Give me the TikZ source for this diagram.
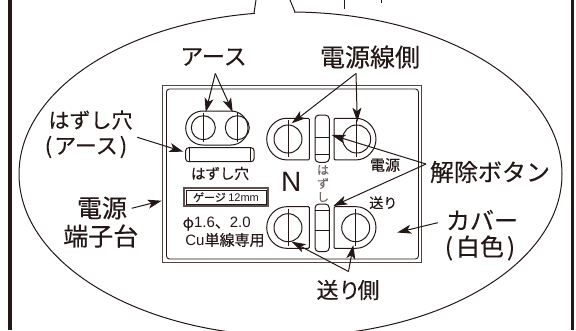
\documentclass[tikz,border=0pt]{standalone}
\usepackage{fontspec}
\setmainfont{Noto Sans CJK JP}[FakeBold=0.25]
\newfontfamily\latinf{Liberation Sans}
\usetikzlibrary{arrows.meta}
\definecolor{ink}{HTML}{231815}
\tikzset{
  lab/.style={font=\fontsize{#1}{#1}\selectfont, inner sep=0pt, text=ink},
  part/.style={draw=ink, line width=1pt},
  pointer/.style={draw=ink, line width=1pt, -{Stealth[length=14pt,width=9pt,inset=3.5pt]}},
  plainline/.style={draw=ink, line width=1pt},
}
\begin{document}
\begin{tikzpicture}[x=1pt,y=-1pt]
\useasboundingbox (0,0) rectangle (576,330);
\clip (0,0) rectangle (576,330);
% frame
\draw[draw=ink,line width=3.6pt] (10,0) -- (10,330);
\draw[draw=ink,line width=3.6pt] (572.5,0) -- (572.5,330);
% balloon ellipse with notch
\draw[draw=ink,line width=1pt] (290.5,174) ellipse [x radius=271.5pt, y radius=162pt];
\fill[white] (255,5) rectangle (294,16);
\draw[plainline] (256,0) -- (254,13.2);
\draw[plainline] (290,0) -- (295,12);
\draw[plainline] (344,0) -- (344,9);
\draw[plainline] (381.7,0) -- (381.7,3);
% body
\node[draw=ink!80,line width=1.4pt,minimum width=259pt,minimum height=177pt,inner sep=0,anchor=north west] (body) at (162,85) {};
\node[draw=ink,line width=.9pt,rounded corners=3pt,minimum width=252pt,minimum height=170pt,inner sep=0,anchor=north west] (inner) at (166,88.5) {};
% earth terminals
\draw[part] (202.7,111) -- (231,111) arc[start angle=90,end angle=-90,radius=17pt] -- (202.7,145) arc[start angle=270,end angle=90,radius=17pt] -- cycle;
\draw[part] (203.3,127.7) circle[radius=12pt];
\draw[part] (237.3,127.7) circle[radius=12pt];
\draw[part] (203.3,112.7) -- (203.3,141.7);
\draw[part] (237.3,112.7) -- (237.3,141.7);
% hole bar
\draw[part,rounded corners=3pt] (185.7,147.7) rectangle (254,161.7);
\draw[part] (189.5,147.7) -- (189.5,161.7);
\draw[part] (250.5,147.7) -- (250.5,161.7);
% power terminals
\draw[part,rounded corners=1pt] (309.3,118.3) -- (287.5,118.3) arc[start angle=90,end angle=270,radius=20.8pt] -- (309.3,159.9) -- cycle;
\draw[part,rounded corners=1pt] (334,118.3) -- (355.2,118.3) arc[start angle=90,end angle=-90,radius=20.8pt] -- (334,159.9) -- cycle;
\draw[part,rounded corners=1pt] (309.3,206.7) -- (287.5,206.7) arc[start angle=90,end angle=270,radius=20.8pt] -- (309.3,248.3) -- cycle;
\draw[part,rounded corners=1pt] (334,206.7) -- (355.2,206.7) arc[start angle=90,end angle=-90,radius=20.8pt] -- (334,248.3) -- cycle;
\foreach \cx/\cy in {288/139,356.7/139,288/227.7,355.7/227.7}{
  \draw[part,fill=white] (\cx,\cy) circle[radius=14pt];
  \draw[part] (\cx,\cy-19) -- (\cx,\cy+18);
}
% release buttons
\draw[part,rounded corners=4pt] (315,115) rectangle (329.3,162.3);
\draw[part] (315,137) -- (329.3,137);
\draw[part] (315,154.3) -- (329.3,154.3);
\draw[part,rounded corners=4pt] (315,204) rectangle (329.3,251.7);
\draw[part] (315,210) -- (329.3,210);
\draw[part] (315,230) -- (329.3,230);
% gauge
\node[draw=ink!75,line width=2.2pt,minimum width=84pt,minimum height=17.5pt,inner sep=0,anchor=center] (gaugeO) at (226.3,197) {};
\node[draw=ink,line width=.6pt,minimum width=80.5pt,minimum height=14pt,inner sep=0] (gaugeI) at (226.3,197) {};
\node[lab=11] (gaugetxt) at (226,197.3) {ゲージ {\latinf 12mm}};
% small texts
\node[lab=14.5] (holetxt) at (220,173.5) {はずし穴};
\node[lab=15] (phi) at (216.7,224) {φ{\latinf 1.6}、{\latinf 2.0}};
\node[lab=15] (cu) at (225,240) {{\latinf Cu}単線専用};
\node[lab=15] (srcsmall) at (385,165) {電源};
\node[lab=14] (sendsmall) at (383.3,202.7) {送り};
\node[lab=28] (N) at (291.3,181.7) {\latinf N};
\node[lab=12,text=ink!65] (v1) at (323,170) {は};
\node[lab=12,text=ink!65] (v2) at (323,183.5) {ず};
\node[lab=12,text=ink!65] (v3) at (323,197) {し};
% labels
\node[lab=23] (earth) at (213.5,57) {アース};
\node[lab=25] (srcside) at (370,57) {電源線側};
\node[lab=21] (hole) at (90.5,120) {はずし穴};
\node[lab=22] (holeb) at (86,147) {(\kern2pt アース\kern2pt)};
\node[lab=25] (tb1) at (102,208) {電源};
\node[lab=25] (tb2) at (100.8,236) {端子台};
\node[lab=24] (release) at (490,172) {解除ボタン};
\node[lab=24] (cover) at (482,220) {カバー};
\node[lab=24] (white) at (480,248) {(\kern3pt 白色\kern3pt)};
\node[lab=22] (sendside) at (348,290) {送り\kern-3pt 側};
% connector anchors
\coordinate (a1) at (215.3,73.5);
\coordinate (a2) at (356,73.5);
\coordinate (a3) at (426,164);
\coordinate (a4) at (348.5,271.5);
\coordinate (s1) at (137.3,137.3);
\coordinate (s2) at (131.7,208.3);
\coordinate (s3) at (437.7,222.7);
\coordinate (e1) at (205.7,112);
\coordinate (e2) at (232.7,112);
\coordinate (p1) at (291.7,123.3);
\coordinate (p2) at (357.3,121.7);
\coordinate (r1) at (331.7,135);
\coordinate (r2) at (333.3,206);
\coordinate (f1) at (291.7,241.7);
\coordinate (f2) at (353.3,245);
\coordinate (h1) at (183.3,151.7);
\coordinate (t1) at (161.7,200.7);
\coordinate (c1) at (397.3,232.5);
% connectors
\draw[pointer] (a1) -- (e1);
\draw[pointer] (a1) -- (e2);
\draw[pointer] (a2) -- (p1);
\draw[pointer] (a2) -- (p2);
\draw[pointer] (a3) -- (r1);
\draw[pointer] (a3) -- (r2);
\draw[pointer] (a4) -- (f1);
\draw[pointer] (a4) -- (f2);
\draw[pointer] (s1) -- (h1);
\draw[pointer] (s2) -- (t1);
\draw[pointer] (s3) -- (c1);
\end{tikzpicture}
\end{document}
